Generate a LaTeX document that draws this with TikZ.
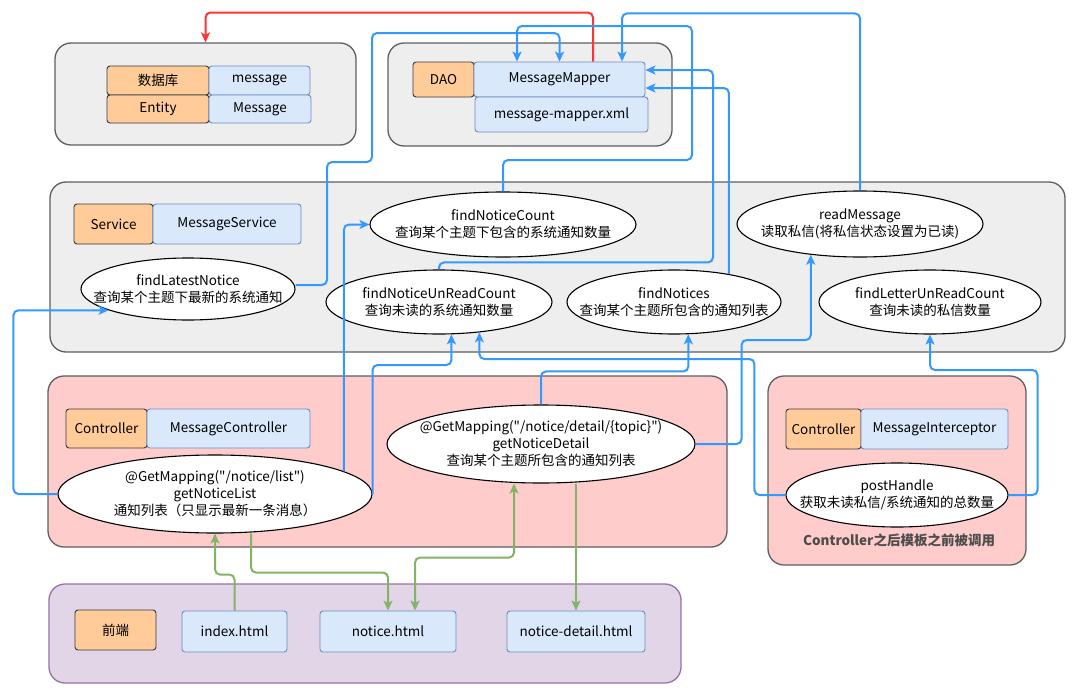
\documentclass[tikz,border=0pt]{standalone}
\usepackage{fontspec}
\setmainfont{Noto Sans CJK SC}[Ligatures=TeXOff]
\usetikzlibrary{shapes.geometric,arrows.meta}
\definecolor{grpfill}{HTML}{EEEEEE}
\definecolor{grpline}{HTML}{5E5E5E}
\definecolor{tagfill}{HTML}{FFCC99}
\definecolor{tagline}{HTML}{36393D}
\definecolor{clsfill}{HTML}{DAE8FC}
\definecolor{clsline}{HTML}{6C8EBF}
\definecolor{ctlfill}{HTML}{FFCCCC}
\definecolor{webfill}{HTML}{E1D5E7}
\definecolor{webline}{HTML}{9673A6}
\definecolor{callblue}{HTML}{3399FF}
\definecolor{callred}{HTML}{FF3333}
\definecolor{callgreen}{HTML}{82B366}
\definecolor{notegrey}{HTML}{4D4D4D}
\begin{document}
\begin{tikzpicture}[x=1pt, y=-1pt, font=\fontsize{13.5}{17}\selectfont,
  grp/.style={draw=grpline, line width=1.3pt, rounded corners=16pt, inner sep=0pt},
  tag/.style={draw=tagline, fill=tagfill, line width=0.9pt, rounded corners=3pt, inner sep=0pt},
  cls/.style={draw=clsline, fill=clsfill, line width=0.9pt, rounded corners=3pt, inner sep=0pt},
  fn/.style={ellipse, draw=black, fill=white, line width=1.1pt, inner sep=0pt,
    label={[align=center, inner sep=0pt]center:{#1}}},
  tip/.style={-{Stealth[length=10pt, width=9pt, inset=2.5pt]}},
  call/.style={draw=callblue, line width=2pt, rounded corners=5pt, tip},
  callr/.style={draw=callred, line width=2pt, rounded corners=5pt, tip},
  callg/.style={draw=callgreen, line width=2pt, rounded corners=5pt, tip}]
\fill[white] (0,0) rectangle (1080,699);
\useasboundingbox (0,0) rectangle (1080,699);

% layers
\node[grp, fill=grpfill, minimum width=301pt, minimum height=102pt] (dbgrp) at (205.5,94) {};
\node[grp, fill=grpfill, minimum width=284pt, minimum height=103pt] (daogrp) at (530,94.5) {};
\node[grp, fill=grpfill, minimum width=1015pt, minimum height=170pt] (svcgrp) at (557.5,267) {};
\node[grp, fill=ctlfill, minimum width=679pt, minimum height=171pt] (ctlgrp) at (387.5,461.5) {};
\node[grp, fill=ctlfill, minimum width=258pt, minimum height=189pt] (itcgrp) at (897,470.5) {};
\node[grp, draw=webline, fill=webfill, minimum width=632pt, minimum height=99pt] (webgrp) at (365,633.5) {};

% database / entity
\node[tag, minimum width=102pt, minimum height=29pt] (dbtag) at (158,80.5) {数据库};
\node[cls, minimum width=101pt, minimum height=29pt] (dbtab) at (259.5,80.5) {message};
\node[tag, minimum width=102pt, minimum height=28pt] (enttag) at (158,109) {Entity};
\node[cls, minimum width=102pt, minimum height=28pt] (entcls) at (260,109) {Message};

% dao
\node[tag, minimum width=61pt, minimum height=35pt] (daotag) at (443.5,79.5) {DAO};
\node[cls, minimum width=171pt, minimum height=35pt] (mapper) at (559.5,79.5) {MessageMapper};
\node[cls, minimum width=173pt, minimum height=35pt] (mapxml) at (561.5,114.5) {message-mapper.xml};

% service
\node[tag, minimum width=79pt, minimum height=40pt] (svctag) at (113.5,224) {Service};
\node[cls, minimum width=148pt, minimum height=40pt] (svccls) at (227,224) {MessageService};
\node[fn={findLatestNotice\\查询某个主题下最新的系统通知}, minimum width=214pt, minimum height=62pt] (latest) at (188,289) {};
\node[fn={findNoticeCount\\查询某个主题下包含的系统通知数量}, minimum width=266pt, minimum height=65pt] (count) at (503,224.5) {};
\node[fn={findNoticeUnReadCount\\查询未读的系统通知数量}, minimum width=226pt, minimum height=64pt] (unread) at (439,302) {};
\node[fn={findNotices\\查询某个主题所包含的通知列表}, minimum width=214pt, minimum height=64pt] (notices) at (674,302) {};
\node[fn={readMessage\\读取私信(将私信状态设置为已读)}, minimum width=246pt, minimum height=66pt] (readmsg) at (860,224) {};
\node[fn={findLetterUnReadCount\\查询未读的私信数量}, minimum width=222pt, minimum height=64pt] (letter) at (930,302) {};

% controller
\node[tag, minimum width=81pt, minimum height=39pt] (ctltag) at (106.5,428.5) {Controller};
\node[cls, minimum width=163pt, minimum height=39pt] (ctlcls) at (228.5,428.5) {MessageController};
\node[fn={@GetMapping("/notice/list")\\getNoticeList\\通知列表（只显示最新一条消息）}, minimum width=314pt, minimum height=78pt] (list) at (215,494) {};
\node[fn={@GetMapping("/notice/detail/\{topic\}")\\getNoticeDetail\\查询某个主题所包含的通知列表}, minimum width=308pt, minimum height=78pt] (detail) at (541,444) {};

% interceptor
\node[tag, minimum width=75pt, minimum height=40pt] (itctag) at (823.5,429) {Controller};
\node[cls, minimum width=147pt, minimum height=40pt] (itccls) at (934.5,429) {MessageInterceptor};
\node[fn={postHandle\\获取未读私信/系统通知的总数量}, minimum width=222pt, minimum height=64pt] (post) at (897,495) {};
\node[font=\fontsize{13.5}{17}\selectfont\bfseries, text=notegrey] (itcnote) at (899,540) {Controller之后模板之前被调用};

% front end
\node[tag, minimum width=81pt, minimum height=40pt] (webtag) at (115.5,630) {前端};
\node[cls, minimum width=105pt, minimum height=41pt] (index) at (234.5,631.5) {index.html};
\node[cls, minimum width=136pt, minimum height=41pt] (notice) at (388,631.5) {notice.html};
\node[cls, minimum width=138pt, minimum height=41pt] (notedet) at (576,631.5) {notice-detail.html};

% calls
\draw[callr] ([xshift=33.5pt]mapper.north) -- ++(0,-49) -| (dbgrp.north);
\draw[call] ([yshift=4pt]latest.east) -| (327,162) -| (372,33) -| (mapper.north);
\draw[call] (count.north) |- (692,160) -- ++(0,-134) -| ([xshift=-42.5pt]mapper.north);
\draw[call] (readmsg.north) -- ++(0,-177) -| ([xshift=62.5pt]mapper.north);
\draw[call] (unread.north) |- ++(274,-7) |- ([yshift=9.5pt]mapper.east);
\draw[call] (notices.27) |- ([yshift=-8.5pt]mapper.east);
\draw[call] (list.west) -- ++(-44,0) |- (latest.195);
\draw[call] (list.10) |- (count.west);
\draw[call] (list.east) -- ++(0,-129) -| (unread.291);
\draw[call] (detail.north) -- ++(0,-33) -| (notices.294);
\draw[call] (detail.east) -| ++(46,-104) -| (readmsg.212);
\draw[call] (post.west) -| ++(-31,-136) -| (unread.323);
\draw[call] (post.east) -| ++(29,-125) -| (letter.south);
\draw[callg] (index.north) -- ++(0,-36) -| (list.south);
\draw[callg] ([xshift=36pt]list.south) -- ++(0,39) -| (notice.north);
\draw[callg, {Stealth[length=10pt, width=9pt, inset=2.5pt]}-{Stealth[length=10pt, width=9pt, inset=2.5pt]}] ([xshift=27pt]notice.north) -- ++(0,-53) -| ([xshift=-27pt]detail.south);
\draw[callg] (detail.south -| notedet.north) -- (notedet.north);
\end{tikzpicture}
\end{document}
